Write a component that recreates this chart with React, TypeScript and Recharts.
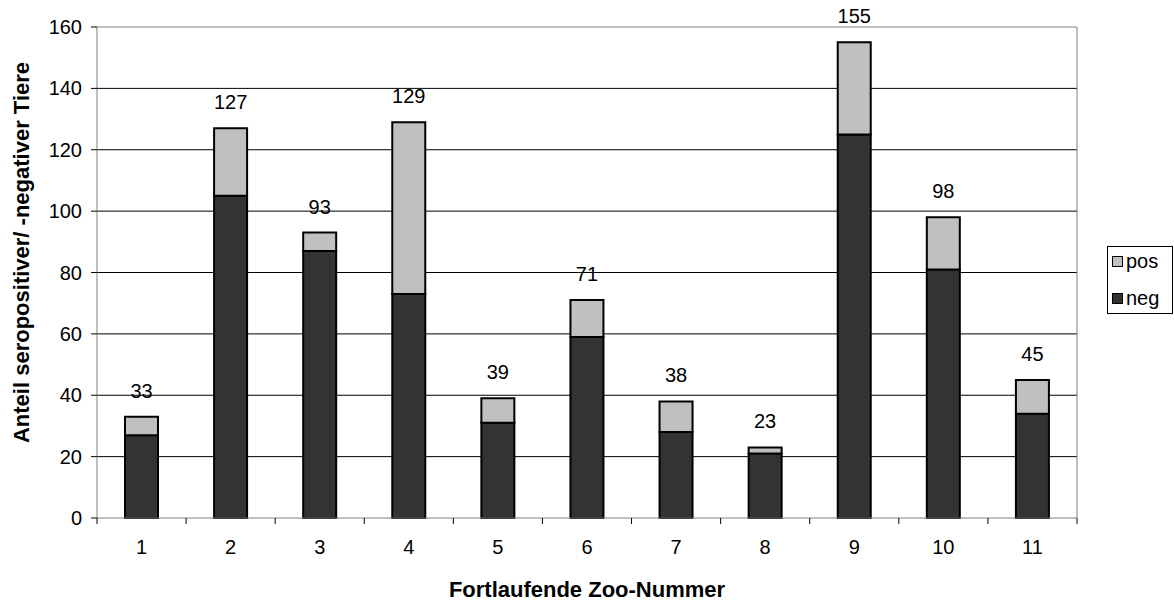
import React from 'react';
import { BarChart, Bar, XAxis, YAxis, CartesianGrid, LabelList, Legend, Label } from 'recharts';

const zoos = ['1', '2', '3', '4', '5', '6', '7', '8', '9', '10', '11'];
const negValues = [27, 105, 87, 73, 31, 59, 28, 21, 125, 81, 34];
const posValues = [6, 22, 6, 56, 8, 12, 10, 2, 30, 17, 11];
const totals = [33, 127, 93, 129, 39, 71, 38, 23, 155, 98, 45];
const yTicks = [0, 20, 40, 60, 80, 100, 120, 140, 160];

const FONT = '"Liberation Sans", Arial, sans-serif';
const FS = 20;
const TFS = 22;

const data = zoos.map((z, i) => ({ zoo: z, neg: negValues[i], pos: posValues[i], total: totals[i] }));

const XTick = (props: any) => {
  const { x, y, payload, index, visibleTicksCount } = props;
  const half = 980 / 11 / 2;
  const axisY = y - 8;
  return (
    <g>
      <line x1={x - half} x2={x - half} y1={axisY} y2={axisY + 6} stroke="#000" />
      {index === visibleTicksCount - 1 && (
        <line x1={x + half} x2={x + half} y1={axisY} y2={axisY + 6} stroke="#000" />
      )}
      <text x={x} y={y + 28} textAnchor="middle" fontSize={FS} fill="#000" fontFamily={FONT}>
        {payload.value}
      </text>
    </g>
  );
};

const LegendContent = () => (
  <div
    style={{
      width: 66,
      height: 68,
      border: '1px solid #000',
      boxSizing: 'border-box',
      background: '#fff',
      position: 'relative',
      fontFamily: FONT,
      fontSize: FS,
      color: '#000',
    }}
  >
    {[
      { name: 'pos', color: '#C0C0C0', cy: 15 },
      { name: 'neg', color: '#333333', cy: 52 },
    ].map((it) => (
      <div key={it.name}>
        <div
          style={{
            position: 'absolute',
            left: 4,
            top: it.cy - 6,
            width: 11,
            height: 11,
            boxSizing: 'border-box',
            border: '1px solid #000',
            background: it.color,
          }}
        />
        <div style={{ position: 'absolute', left: 18, top: it.cy - 12, lineHeight: '22px', whiteSpace: 'nowrap' }}>
          {it.name}
        </div>
      </div>
    ))}
  </div>
);

export default function App() {
  return (
    <div style={{ position: 'absolute', left: 0, top: 0, width: 1174, height: 601, background: '#fff' }}>
      <BarChart
        width={1174}
        height={601}
        data={data}
        margin={{ top: 27, right: 31, bottom: 0, left: 0 }}
        barSize={33}
      >
        <CartesianGrid
          vertical={false}
          stroke="#000"
          horizontalCoordinatesGenerator={({ offset }: any) =>
            yTicks.slice(1, -1).map((v) => offset.top + offset.height * (1 - v / 160))
          }
        />
        <CartesianGrid
          stroke="#808080"
          horizontalCoordinatesGenerator={({ offset }: any) => [offset.top]}
          verticalCoordinatesGenerator={({ offset }: any) => [offset.left + offset.width]}
        />
        <XAxis
          dataKey="zoo"
          height={83}
          tickLine={false}
          axisLine={{ stroke: '#808080' }}
          tick={<XTick />}
          interval={0}
        >
          <Label
            content={(p: any) => {
              const vb = p.viewBox;
              return (
                <text
                  x={vb.x + vb.width / 2}
                  y={597}
                  textAnchor="middle"
                  fontSize={TFS}
                  fontWeight="bold"
                  fontFamily={FONT}
                  fill="#000"
                >
                  Fortlaufende Zoo-Nummer
                </text>
              );
            }}
          />
        </XAxis>
        <YAxis
          width={97}
          domain={[0, 160]}
          ticks={yTicks}
          interval={0}
          tickSize={6}
          tickMargin={9}
          axisLine={{ stroke: '#808080' }}
          tickLine={{ stroke: '#000' }}
          tick={{ fontSize: FS, fill: '#000', fontFamily: FONT }}
        >
          <Label
            content={(p: any) => {
              const vb = p.viewBox;
              const cx = 21;
              const cy = vb.y + vb.height / 2 - 20;
              return (
                <text
                  x={cx}
                  y={cy}
                  transform={`rotate(-90, ${cx}, ${cy})`}
                  textAnchor="middle"
                  dominantBaseline="central"
                  fontSize={TFS}
                  fontWeight="bold"
                  fontFamily={FONT}
                  fill="#000"
                >
                  Anteil seropositiver/ -negativer Tiere
                </text>
              );
            }}
          />
        </YAxis>
        <Legend
          layout="vertical"
          align="right"
          verticalAlign="middle"
          width={66}
          content={<LegendContent />}
          wrapperStyle={{ left: 1107, top: 246, width: 66, height: 68 }}
        />
        <Bar dataKey="neg" name="neg" stackId="a" fill="#333333" stroke="#000" strokeWidth={2} isAnimationActive={false} />
        <Bar dataKey="pos" name="pos" stackId="a" fill="#C0C0C0" stroke="#000" strokeWidth={2} isAnimationActive={false}>
          <LabelList dataKey="total" position="top" offset={19} fontSize={FS} fill="#000" fontFamily={FONT} />
        </Bar>
      </BarChart>
    </div>
  );
}
